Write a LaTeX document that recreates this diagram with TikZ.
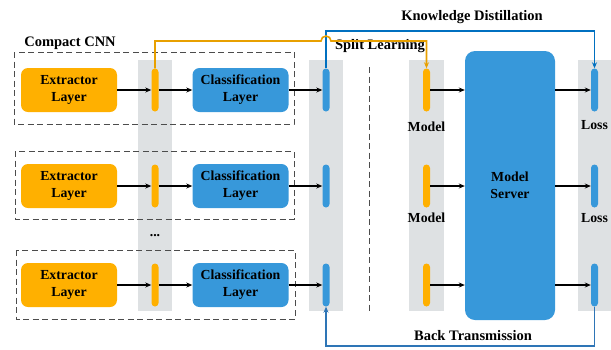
\documentclass[tikz,border=0pt]{standalone}
\usepackage{fontspec}
\setmainfont{Liberation Serif}
\usetikzlibrary{arrows.meta}
\definecolor{extorange}{RGB}{255,176,0}
\definecolor{clsblue}{RGB}{55,152,218}
\definecolor{colgray}{RGB}{222,225,227}
\definecolor{kdblue}{RGB}{0,112,192}
\definecolor{sporange}{RGB}{232,160,0}
\definecolor{btblue}{RGB}{46,117,182}

\begin{document}
\begin{tikzpicture}
      [x=1pt,y=-1pt,
      every node/.style={font=\fontsize{13.8}{17}\selectfont\bfseries,align=center,inner sep=0pt},
      ext/.style={fill=extorange,rounded corners=7pt,minimum width=96pt,minimum height=44pt},
      cls/.style={ext,fill=clsblue},
      seg/.style={rounded corners=3.5pt,minimum width=7pt,minimum height=43pt},
      oseg/.style={seg,fill=extorange},
      bseg/.style={seg,fill=clsblue},
      tag/.style={font=\fontsize{14.5}{17}\selectfont\bfseries},
      frame/.style={draw=black!70,line width=0.8pt,dash pattern=on 6pt off 3.5pt},
      tip/.style={-{Stealth[length=6pt,width=5pt]}},
      flow/.style={tip,line width=1.2pt},
      link/.style={tip,line width=1.6pt}]
   \useasboundingbox (0,0) rectangle (611,349);
   \fill[colgray] (138,60) rectangle (172,311);
   \fill[colgray] (309,60) rectangle (343,311);
   \fill[colgray] (409,60) rectangle (444,311);
   \fill[colgray] (578,60) rectangle (611,311);
   \draw[frame] (14,52) rectangle (294,124);
   \draw[frame] (15,151) rectangle (294,219);
   \draw[frame] (16,250) rectangle (295,319);
   \draw[frame] (369,67) -- (369,313);
   \node[cls,rounded corners=10pt,minimum width=90pt,minimum height=269pt] (server) at (510,185.5) {Model\\Server};
   \foreach \r/\y in {1/90,2/186,3/285}
   {
    \node[ext] (ext\r) at (69,\y) {Extractor\\Layer};
    \node[oseg] (sa\r) at (155,\y) {};
    \node[cls] (cls\r) at (240.5,\y) {Classification\\Layer};
    \node[bseg] (sb\r) at (326,\y) {};
    \node[oseg] (sc\r) at (426.5,\y) {};
    \node[bseg] (sd\r) at (594.5,\y) {};
    \draw[flow] (ext\r) -- (sa\r);
    \draw[flow] (sa\r) -- (cls\r);
    \draw[flow] (cls\r) -- (sb\r);
    \draw[flow] (sc\r) -- (sc\r -| server.west);
    \draw[flow] (server.east |- sd\r) -- (sd\r);
   }
   \node[tag] (cnn) at (70,43) {Compact CNN};
   \node[tag] (kd) at (472,17) {Knowledge Distillation};
   \node[tag] (sl) at (380,46) {Split Learning};
   \node[tag] (bt) at (473,336) {Back Transmission};
   \node (dots) at (155,236) {...};
   \node (model1) at (426.5,127) {Model};
   \node (model2) at (426.5,218) {Model};
   \node (loss1) at (594.5,125) {Loss};
   \node (loss2) at (594.5,218) {Loss};
   \draw[link,kdblue] (sb1.north) -- (sb1.north |- 0,31) -| (sd1.north);
   \draw[link,sporange] (sa1.north) |- (321,41) arc[start angle=180,end angle=360,radius=5] -- (sc1.north |- 0,41) -- (sc1.north);
   \draw[link,btblue] (sd3.south) -- (sd3.south |- 0,346) -| (sb3.south);
\end{tikzpicture}
\end{document}
